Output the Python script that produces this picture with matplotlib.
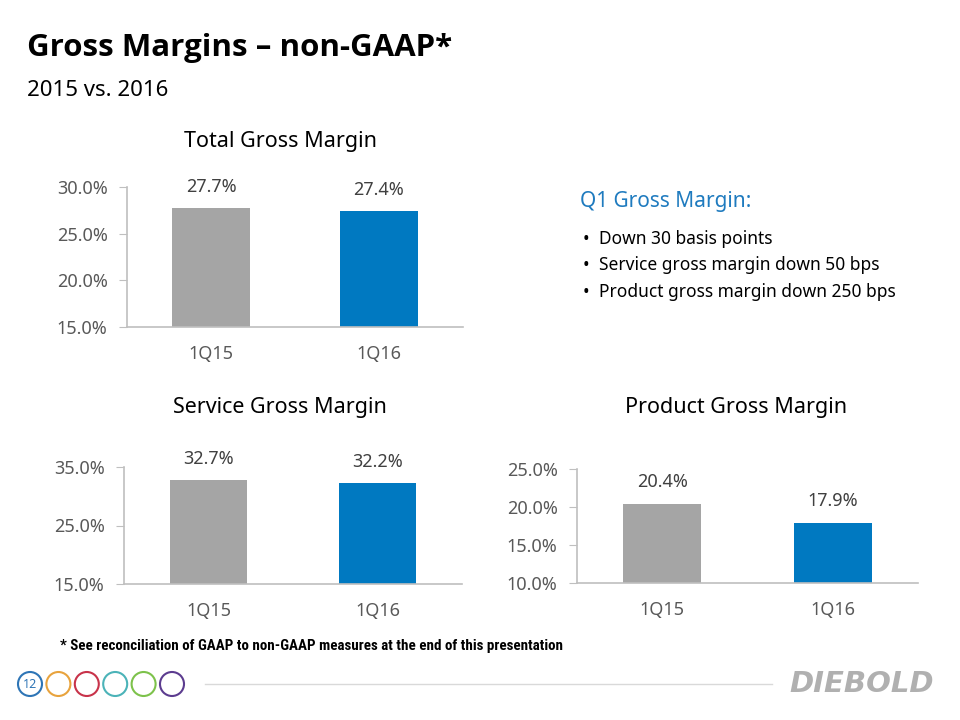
import matplotlib.pyplot as plt
from matplotlib.patches import Circle
from matplotlib.lines import Line2D

# data
quarters = ['1Q15', '1Q16']
total_gm = [27.7, 27.4]
service_gm = [32.7, 32.2]
product_gm = [20.4, 17.9]
bar_colors = ['#A5A5A5', '#0079C1']

bullets = ['Down 30 basis points',
           'Service gross margin down 50 bps',
           'Product gross margin down 250 bps']

plt.rcParams['font.family'] = ['Noto Sans', 'DejaVu Sans']

W, H = 960, 720
fig = plt.figure(figsize=(W / 100, H / 100), dpi=100)


def px_axes(left, top, right, bottom):
    return fig.add_axes([left / W, 1 - bottom / H, (right - left) / W, (bottom - top) / H])


def px_text(x, y, s, **kw):
    fig.text(x / W, 1 - y / H, s, **kw)


def bar_chart(ax, values, ylim, yticks):
    x = range(len(values))
    ax.bar(x, values, width=0.46, color=bar_colors, zorder=2)
    ax.set_xlim(-0.5, 1.5)
    ax.set_ylim(*ylim)
    ax.set_yticks(yticks)
    ax.set_yticklabels(['%.1f%%' % t for t in yticks])
    ax.set_xticks(list(x))
    ax.set_xticklabels(quarters)
    for s in ['top', 'right']:
        ax.spines[s].set_visible(False)
    for s in ['left', 'bottom']:
        ax.spines[s].set_color('#BFBFBF')
        ax.spines[s].set_linewidth(1.2)
    ax.tick_params(axis='y', length=6, color='#BFBFBF', pad=8, labelsize=13, labelcolor='#595959')
    ax.tick_params(axis='x', length=0, pad=13, labelsize=13, labelcolor='#595959')
    for i, v in enumerate(values):
        ax.annotate('%.1f%%' % v, (i, v), xytext=(0, 9), textcoords='offset points',
                    ha='center', va='bottom', fontsize=13, color='#404040')


ax1 = px_axes(127, 187, 463, 327)
bar_chart(ax1, total_gm, (15, 30), [15, 20, 25, 30])

ax2 = px_axes(124, 467, 462, 584)
bar_chart(ax2, service_gm, (15, 35), [15, 25, 35])

ax3 = px_axes(577, 469, 918, 583)
bar_chart(ax3, product_gm, (10, 25), [10, 15, 20, 25])

# titles
px_text(27, 48, 'Gross Margins \u2013 non-GAAP*', fontsize=22.5, fontweight='bold', va='center',
        color='black', family=['Open Sans', 'DejaVu Sans'])
px_text(27, 90, '2015 vs. 2016', fontsize=16, va='center', color='black')
px_text(280, 142, 'Total Gross Margin', fontsize=15.5, ha='center', va='center', color='black')
px_text(280, 407, 'Service Gross Margin', fontsize=15.5, ha='center', va='center', color='black')
px_text(736, 407, 'Product Gross Margin', fontsize=15.5, ha='center', va='center', color='black')

# side notes
px_text(580, 201, 'Q1 Gross Margin:', fontsize=15, color='#1F7BBF', va='center')
for i, b in enumerate(bullets):
    y = 239 + i * 26.5
    px_text(583, y, '\u2022', fontsize=12.5, va='center', color='black')
    px_text(599, y, b, fontsize=12.5, va='center', color='black')

px_text(60, 646, '* See reconciliation of GAAP to non-GAAP measures at the end of this presentation',
        fontsize=10.8, fontweight='bold', va='center', color='black',
        family=['Liberation Sans Narrow', 'Roboto Condensed', 'Liberation Sans', 'DejaVu Sans'])

# footer decoration
deco = fig.add_axes([0, 0, 1, 1], zorder=-1)
deco.set_xlim(0, W)
deco.set_ylim(H, 0)
deco.axis('off')
ring_colors = ['#2E75B6', '#E8A33D', '#C8334A', '#4BB3B8', '#7DC24B', '#5C3C8F']
for i, c in enumerate(ring_colors):
    deco.add_patch(Circle((30 + i * 28.4, 684), 12, fill=False, edgecolor=c, linewidth=1.5))
deco.text(30, 684, '12', ha='center', va='center', fontsize=9, color='#2E75B6')
deco.add_line(Line2D([205, 772], [684, 684], color='#D9D9D9', linewidth=1))
deco.text(862, 684, 'DIEBOLD', ha='center', va='center', fontsize=21, fontweight='bold',
          style='italic', color='#B0B0B0', family=['DejaVu Sans'])

fig.savefig('out.png', dpi=100)
